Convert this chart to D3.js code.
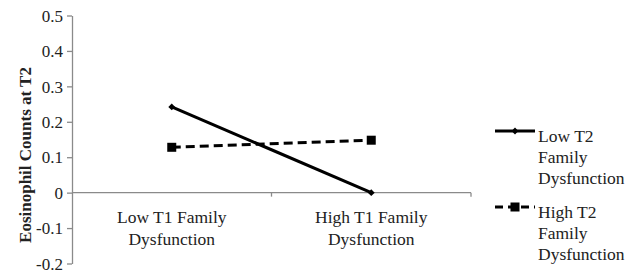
<!DOCTYPE html>
<html>
<head>
<meta charset="utf-8">
<script src="https://cdn.jsdelivr.net/npm/d3@7"></script>
<style>
  body { margin: 0; background: #fff; }
  svg text { font-family: "Liberation Serif", "DejaVu Serif", "Times New Roman", Times, serif; fill: #222; }
</style>
</head>
<body>
<svg id="chart" width="640" height="271"></svg>
<script>
// data
const categories = [["Low T1 Family", "Dysfunction"], ["High T1 Family", "Dysfunction"]];
const lowT2 = [0.242, 0.0];
const highT2 = [0.128, 0.148];
const seriesNames = [["Low T2", "Family", "Dysfunction"], ["High T2", "Family", "Dysfunction"]];
const yTicks = [0.5, 0.4, 0.3, 0.2, 0.1, 0, -0.1, -0.2];

const svg = d3.select("#chart");
const axisColor = "#8a8a8a";

// scales
const x = d3.scaleBand()
  .domain(categories.map((c, i) => i))
  .range([72, 471])
  .padding(0);
const y = d3.scaleLinear().domain([-0.2, 0.5]).range([263.5, 15.5]);

// y axis
const yAxis = d3.axisLeft(y)
  .tickValues(yTicks)
  .tickSize(5)
  .tickSizeOuter(0)
  .tickPadding(4)
  .tickFormat(d => d === 0 ? "0" : d3.format(".1f")(d).replace("\u2212", "-"));

const gy = svg.append("g")
  .attr("transform", "translate(72,0)")
  .call(yAxis)
  .attr("font-family", null)
  .attr("font-size", null);
gy.select(".domain").attr("stroke", axisColor).attr("stroke-width", 1.3);
gy.selectAll(".tick line").attr("stroke", axisColor).attr("stroke-width", 1.3);
gy.selectAll(".tick text")
  .style("font-size", "17px")
  .attr("fill", "#222")
  .attr("dy", "0.34em");

// x axis at y = 0
const gx = svg.append("g");
gx.append("line")
  .attr("x1", x.range()[0]).attr("x2", x.range()[1])
  .attr("y1", y(0)).attr("y2", y(0))
  .attr("stroke", axisColor).attr("stroke-width", 1.3);
const boundaries = [x(1), x(1) + x.bandwidth()];
gx.selectAll(".xt")
  .data(boundaries)
  .enter()
  .append("line")
  .attr("x1", d => d).attr("x2", d => d)
  .attr("y1", y(0)).attr("y2", y(0) + 4)
  .attr("stroke", axisColor).attr("stroke-width", 1.3);

// category labels
categories.forEach((c, i) => {
  const t = svg.append("text")
    .attr("text-anchor", "middle")
    .style("font-size", "17.5px");
  c.forEach((line, j) => {
    t.append("tspan")
      .attr("x", x(i) + x.bandwidth() / 2)
      .attr("y", 223 + j * 22)
      .text(line);
  });
});

// y axis title
svg.append("text")
  .attr("transform", "translate(31," + 155 + ") rotate(-90)")
  .attr("text-anchor", "middle")
  .style("font-size", "17px")
  .attr("font-weight", "bold")
  .text("Eosinophil Counts at T2");

const cx = i => x(i) + x.bandwidth() / 2;
const lineGen = d3.line().x((d, i) => cx(i)).y(d => y(d));

// low T2: solid with diamonds
svg.append("path")
  .datum(lowT2)
  .attr("d", lineGen)
  .attr("fill", "none")
  .attr("stroke", "#000")
  .attr("stroke-width", 3);
svg.selectAll(".diamond")
  .data(lowT2)
  .enter()
  .append("path")
  .attr("d", d3.symbol().type(d3.symbolDiamond2).size(30))
  .attr("transform", (d, i) => "translate(" + cx(i) + "," + y(d) + ")")
  .attr("fill", "#000");

// high T2: dashed with squares
svg.append("path")
  .datum(highT2)
  .attr("d", lineGen)
  .attr("fill", "none")
  .attr("stroke", "#000")
  .attr("stroke-width", 3)
  .attr("stroke-dasharray", "9,5");
svg.selectAll(".sq")
  .data(highT2)
  .enter()
  .append("rect")
  .attr("x", (d, i) => cx(i) - 4.5)
  .attr("y", d => y(d) - 4.5)
  .attr("width", 9)
  .attr("height", 9)
  .attr("fill", "#000");

// legend
const legendY = [131, 207];
seriesNames.forEach((names, k) => {
  const g = svg.append("g");
  const ly = legendY[k];
  g.append("line")
    .attr("x1", 495).attr("x2", 535)
    .attr("y1", ly).attr("y2", ly)
    .attr("stroke", "#000")
    .attr("stroke-width", 3)
    .attr("stroke-dasharray", k === 1 ? "8,5" : null);
  if (k === 0) {
    g.append("path")
      .attr("d", d3.symbol().type(d3.symbolDiamond2).size(30))
      .attr("transform", "translate(515," + ly + ")");
  } else {
    g.append("rect")
      .attr("x", 510.5).attr("y", ly - 4.5)
      .attr("width", 9).attr("height", 9);
  }
  const t = g.append("text").style("font-size", "17.5px");
  names.forEach((n, j) => {
    t.append("tspan")
      .attr("x", 538)
      .attr("y", ly + 11 + j * 21)
      .text(n);
  });
});
</script>
</body>
</html>
